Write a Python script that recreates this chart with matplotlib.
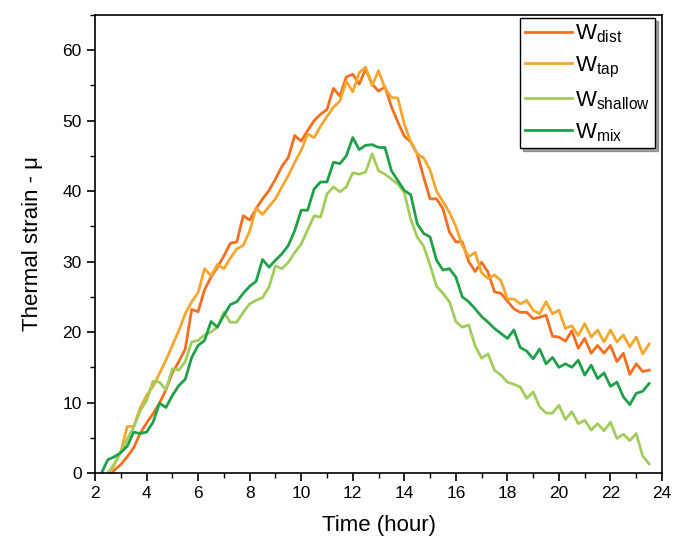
import matplotlib
matplotlib.use('Agg')
import matplotlib.pyplot as plt
from matplotlib.ticker import MultipleLocator
import numpy as np

plt.rcParams['font.family'] = ['Liberation Sans', 'DejaVu Sans']
plt.rcParams['mathtext.fontset'] = 'custom'
plt.rcParams['mathtext.rm'] = 'Liberation Sans'

# time in hours, sampled every 15 min
t = np.arange(2.25, 23.51, 0.25)

w_dist = [-1.5, -0.6, 0.4, 1.2, 2.3, 3.6, 5.6, 7.1, 8.4, 9.9,
          11.8, 14.2, 15.8, 17.6, 23.2, 22.9, 26.0, 27.8, 29.2, 30.8,
          32.6, 32.8, 36.5, 35.9, 37.5, 38.9, 40.1, 41.7, 43.5, 44.8,
          47.9, 47.1, 48.6, 50.0, 50.9, 51.6, 54.6, 53.5, 56.2, 56.6,
          55.2, 57.3, 55.2, 54.2, 54.8, 52.0, 49.8, 47.8, 47.0, 45.3,
          42.0, 38.9, 38.9, 37.5, 34.2, 32.8, 32.8, 30.0, 28.6, 29.9,
          28.5, 25.7, 25.5, 24.4, 23.3, 22.8, 22.8, 21.9, 22.1, 22.4,
          19.4, 19.3, 18.7, 20.2, 17.7, 19.1, 17.0, 18.1, 17.0, 18.1,
          15.8, 17.0, 14.0, 15.5, 14.4, 14.6]

w_tap = [-1.5, -0.4, 1.2, 3.0, 6.6, 6.6, 9.2, 11.0, 12.3, 14.1,
         16.0, 18.1, 20.2, 22.6, 24.3, 25.6, 29.0, 28.0, 29.6, 29.0,
         30.5, 31.8, 32.3, 34.3, 37.6, 36.7, 37.8, 38.9, 40.6, 42.2,
         44.1, 45.8, 48.1, 47.6, 49.2, 50.6, 51.9, 52.8, 55.6, 54.1,
         56.8, 57.6, 55.0, 57.1, 54.6, 53.3, 53.2, 49.5, 47.0, 45.3,
         44.7, 43.0, 40.0, 38.5, 37.0, 35.0, 32.3, 30.7, 31.3, 28.4,
         27.6, 28.1, 27.3, 24.7, 24.7, 24.0, 24.5, 23.1, 22.6, 24.3,
         22.6, 23.1, 20.5, 20.9, 19.5, 21.2, 19.3, 20.3, 18.6, 20.3,
         18.6, 19.6, 17.9, 19.3, 16.9, 18.3]

w_shallow = [-1.0, 0.0, 1.3, 3.0, 4.8, 6.5, 8.8, 10.3, 13.0, 12.9,
             11.8, 14.8, 14.6, 15.8, 18.6, 18.8, 19.6, 20.0, 20.7, 22.8,
             21.4, 21.4, 22.8, 24.0, 24.5, 24.9, 26.4, 29.4, 29.0, 29.9,
             31.3, 32.5, 34.5, 36.5, 36.3, 39.6, 40.6, 39.9, 40.6, 42.6,
             42.4, 42.7, 45.3, 42.9, 42.4, 41.7, 41.0, 39.8, 36.0, 33.5,
             32.2, 29.5, 26.5, 25.5, 24.3, 21.5, 20.7, 21.0, 18.0, 16.3,
             16.9, 14.6, 13.9, 12.9, 12.6, 12.2, 10.6, 11.5, 9.4, 8.5,
             8.5, 9.6, 7.6, 8.7, 7.0, 7.5, 6.1, 7.0, 6.0, 7.2,
             4.9, 5.5, 4.6, 5.6, 2.4, 1.3]

w_mix = [0.0, 1.9, 2.3, 2.9, 3.8, 5.8, 5.6, 5.8, 7.2, 9.9,
         9.3, 11.0, 12.4, 13.3, 16.4, 18.1, 18.8, 21.5, 20.7, 22.4,
         23.9, 24.3, 25.5, 26.5, 27.2, 30.3, 29.2, 30.2, 31.1, 32.3,
         34.4, 37.3, 37.3, 40.3, 41.3, 41.3, 44.1, 43.9, 45.0, 47.6,
         45.9, 46.5, 46.6, 46.2, 46.2, 42.9, 41.5, 40.1, 39.5, 35.4,
         34.0, 33.5, 30.2, 28.8, 29.0, 27.8, 25.0, 24.3, 23.3, 22.2,
         21.4, 20.5, 19.8, 19.1, 20.3, 17.8, 17.3, 16.2, 17.6, 15.5,
         16.4, 15.0, 15.5, 15.0, 16.0, 13.9, 15.3, 13.4, 14.2, 12.3,
         12.9, 10.8, 9.7, 11.3, 11.6, 12.7]

labels = [r'W$_{\mathrm{dist}}$', r'W$_{\mathrm{tap}}$',
          r'W$_{\mathrm{shallow}}$', r'W$_{\mathrm{mix}}$']
colors = ['#F26F21', '#F5A62E', '#A2CD5C', '#20A049']

fig = plt.figure(figsize=(6.73, 5.45), dpi=100)
ax = fig.add_axes([0.1412, 0.1321, 0.8425, 0.8404])

for y, lab, c in zip([w_dist, w_tap, w_shallow, w_mix], labels, colors):
    ax.plot(t, y, color=c, lw=2.0, label=lab)

ax.set_xlim(2, 24)
ax.set_ylim(0, 65)
ax.xaxis.set_major_locator(MultipleLocator(2))
ax.xaxis.set_minor_locator(MultipleLocator(1))
ax.yaxis.set_major_locator(MultipleLocator(10))
ax.yaxis.set_minor_locator(MultipleLocator(5))
ax.tick_params(which='major', direction='out', length=6, width=1.2, labelsize=12.5)
ax.tick_params(which='minor', direction='out', length=3.5, width=1.0)
for s in ax.spines.values():
    s.set_linewidth(1.2)

ax.set_xlabel('Time (hour)', fontsize=16, labelpad=10)
ax.set_ylabel('Thermal strain - μ', fontsize=16, labelpad=14)

leg = ax.legend(loc='upper right', bbox_to_anchor=(0.988, 0.994), borderaxespad=0,
                fontsize=16, fancybox=False, shadow=True, handlelength=2.1,
                handletextpad=0.15, labelspacing=0.42, borderpad=0.22)
leg.get_frame().set_edgecolor('black')
leg.get_frame().set_linewidth(1.0)

fig.savefig('out.png', dpi=100)
